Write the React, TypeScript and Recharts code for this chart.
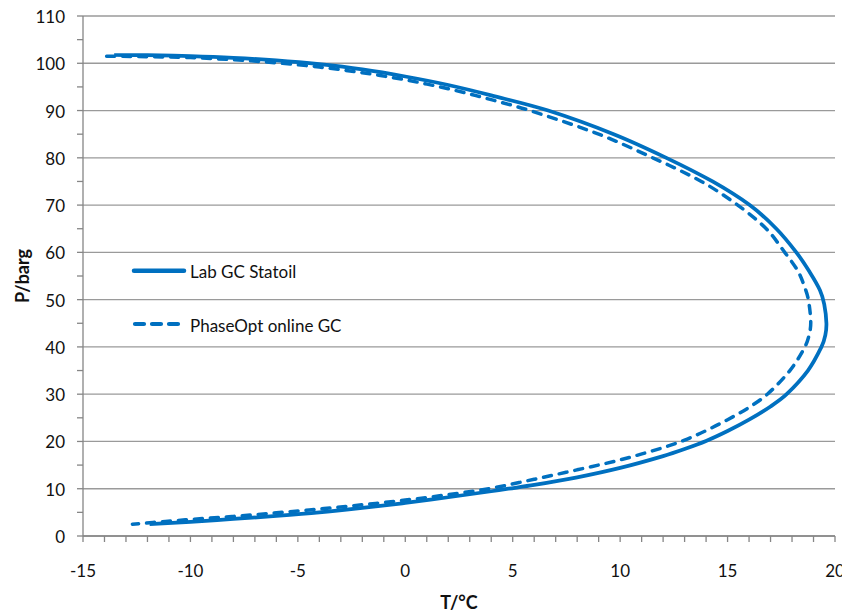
import React from 'react';
import { LineChart, Line, XAxis, YAxis, CartesianGrid, Label } from 'recharts';

// Lab GC Statoil (solid) — traced along the curve from the top-left end, round the nose, to the bottom-left end
const LAB_T = [-13.55, -12, -10, -8, -6, -4, -2, 0, 2, 4, 6.65, 9.7, 12.15, 14.3, 16.03, 17.27, 18.2, 18.8, 19.3, 19.5, 19.6, 19.55, 19.37, 18.74, 17.75, 17.0, 16.0, 15.0, 14.0, 13.0, 12.0, 10.0, 8.0, 6.0, 4.8, 4.0, 2.0, 0, -2, -4, -6, -8, -10, -11.9];
const LAB_P = [101.75, 101.7, 101.5, 101.15, 100.6, 99.8, 98.7, 97.2, 95.4, 93.2, 90, 85, 80, 75, 70, 65, 60, 56, 52, 49, 45, 42.5, 40, 35, 30, 27.4, 24.6, 22.2, 20.1, 18.4, 16.9, 14.4, 12.4, 10.8, 10.0, 9.47, 8.2, 7.0, 5.95, 5.0, 4.25, 3.6, 3.0, 2.5];

// PhaseOpt online GC (dashed)
const ONLINE_T = [-13.9, -12, -10, -8, -6, -4, -2, 0, 2, 4, 5.8, 9.0, 11.52, 13.78, 15.47, 16.8, 17.66, 18.28, 18.6, 18.76, 18.87, 18.82, 18.6, 17.9, 16.85, 16.0, 15.0, 14.0, 13.0, 12.0, 10.0, 8.0, 6.0, 4.0, 2.0, 0, -2, -4, -6, -8, -10, -12.7];
const ONLINE_P = [101.5, 101.4, 101.2, 100.75, 100.1, 99.2, 98.0, 96.5, 94.6, 92.3, 90, 85, 80, 75, 70, 65, 60, 56, 52.5, 50, 45.5, 43, 40, 35, 30, 27.2, 24.6, 22.3, 20.3, 18.7, 16.1, 14.0, 12.0, 10.1, 8.75, 7.6, 6.6, 5.7, 4.9, 4.15, 3.5, 2.5];

const X_TICKS = [-15, -14, -13, -12, -11, -10, -9, -8, -7, -6, -5, -4, -3, -2, -1, 0, 1, 2, 3, 4, 5, 6, 7, 8, 9, 10, 11, 12, 13, 14, 15, 16, 17, 18, 19, 20];
const X_LABELED = [-15, -10, -5, 0, 5, 10, 15, 20];
const Y_TICKS = [0, 5, 10, 15, 20, 25, 30, 35, 40, 45, 50, 55, 60, 65, 70, 75, 80, 85, 90, 95, 100, 105, 110];
const Y_LABELED = [0, 10, 20, 30, 40, 50, 60, 70, 80, 90, 100, 110];
const SERIES_NAMES = ['Lab GC Statoil', 'PhaseOpt online GC'];
const X_TITLE = 'T/°C';
const Y_TITLE = 'P/barg';

const labData = LAB_T.map((t, i) => ({ t, p: LAB_P[i] }));
const onlineData = ONLINE_T.map((t, i) => ({ t, p: ONLINE_P[i] }));

const BLUE = '#0070C0';
const AXIS = '#868686';
const GRID = '#9a9a9a';
const FONT = 'Lato, "Open Sans", sans-serif';

// Chord-length parameterised cubic Hermite spline (d3 curve factory interface):
// smooth through every scaled point, also where the curve turns back on itself.
const smoothCurve: any = (context: any) => {
  let pts: number[][] = [];
  return {
    areaStart() {},
    areaEnd() {},
    lineStart() {
      pts = [];
    },
    point(x: number, y: number) {
      pts.push([+x, +y]);
    },
    lineEnd() {
      const n = pts.length;
      if (!n) return;
      context.moveTo(pts[0][0], pts[0][1]);
      if (n === 1) return;
      const d: number[] = [];
      for (let i = 0; i < n - 1; i++) {
        d.push(Math.hypot(pts[i + 1][0] - pts[i][0], pts[i + 1][1] - pts[i][1]) || 1e-6);
      }
      const m = pts.map((p, i) => {
        if (i === 0) return [(pts[1][0] - p[0]) / d[0], (pts[1][1] - p[1]) / d[0]];
        if (i === n - 1) return [(p[0] - pts[i - 1][0]) / d[i - 1], (p[1] - pts[i - 1][1]) / d[i - 1]];
        const s = d[i - 1] + d[i];
        return [(pts[i + 1][0] - pts[i - 1][0]) / s, (pts[i + 1][1] - pts[i - 1][1]) / s];
      });
      for (let i = 0; i < n - 1; i++) {
        const k = d[i] / 3;
        context.bezierCurveTo(
          pts[i][0] + m[i][0] * k,
          pts[i][1] + m[i][1] * k,
          pts[i + 1][0] - m[i + 1][0] * k,
          pts[i + 1][1] - m[i + 1][1] * k,
          pts[i + 1][0],
          pts[i + 1][1]
        );
      }
    },
  };
};

const XTick = (props: any) => {
  const { x, y, payload } = props;
  if (!X_LABELED.includes(payload.value)) return <g />;
  return (
    <text x={x} y={y} dy={34.5} textAnchor="middle" fontSize={17} fill="#111" fontFamily={FONT}>
      {payload.value}
    </text>
  );
};

const YTick = (props: any) => {
  const { x, y, payload } = props;
  if (!Y_LABELED.includes(payload.value)) return <g />;
  return (
    <text x={x} y={y} dx={-12} dy={7} textAnchor="end" fontSize={17} fill="#111" fontFamily={FONT}>
      {payload.value}
    </text>
  );
};

const YTitle = (props: any) => {
  const vb = props.viewBox || {};
  const cx = 14;
  const cy = vb.y + vb.height / 2;
  return (
    <text x={cx} y={cy} transform={`rotate(-90 ${cx} ${cy})`} textAnchor="middle" dominantBaseline="central"
      fontSize={18} fontWeight="bold" fill="#111" fontFamily={FONT}>
      {Y_TITLE}
    </text>
  );
};

const XTitle = (props: any) => {
  const vb = props.viewBox || {};
  const cx = vb.x + vb.width / 2;
  return (
    <text x={cx} y={609} textAnchor="middle" fontSize={18} fontWeight="bold" fill="#111" fontFamily={FONT}>
      {X_TITLE}
    </text>
  );
};

export default function App() {
  return (
    <div style={{ position: 'relative', width: 842, height: 614, marginTop: -8, fontFamily: FONT }}>
      <LineChart width={842} height={614} margin={{ top: 16, right: 15, left: 0, bottom: 38 }}>
        <CartesianGrid horizontal vertical={false} horizontalValues={Y_LABELED} stroke={GRID} strokeWidth={1.3} />
        <XAxis
          type="number"
          dataKey="t"
          domain={[-15, 20]}
          ticks={X_TICKS}
          interval={0}
          height={40}
          tickSize={6}
          tickMargin={0}
          axisLine={{ stroke: AXIS, strokeWidth: 1.3 }}
          tickLine={{ stroke: AXIS, strokeWidth: 1.3 }}
          tick={<XTick />}
          allowDataOverflow
        >
          <Label content={<XTitle />} />
        </XAxis>
        <YAxis
          type="number"
          dataKey="p"
          domain={[0, 110]}
          ticks={Y_TICKS}
          interval={0}
          width={75}
          tickSize={6}
          tickMargin={0}
          axisLine={{ stroke: AXIS, strokeWidth: 1.3 }}
          tickLine={{ stroke: AXIS, strokeWidth: 1.3 }}
          tick={<YTick />}
          allowDataOverflow
        >
          <Label content={<YTitle />} />
        </YAxis>
        <Line
          data={labData}
          dataKey="p"
          name={SERIES_NAMES[0]}
          type={smoothCurve}
          stroke={BLUE}
          strokeWidth={3.75}
          dot={false}
          activeDot={false}
          isAnimationActive={false}
        />
        <Line
          data={onlineData}
          dataKey="p"
          name={SERIES_NAMES[1]}
          type={smoothCurve}
          stroke={BLUE}
          strokeWidth={3.5}
          strokeDasharray="8 8"
          strokeLinecap="round"
          dot={false}
          activeDot={false}
          isAnimationActive={false}
        />
      </LineChart>
      <svg width={300} height={100} style={{ position: 'absolute', left: 120, top: 248 }}>
        <line x1={6} x2={56} y1={22.7} y2={22.7} stroke={BLUE} strokeWidth={4.5} strokeLinecap="round" />
        <text x={62} y={30.3} fontSize={17} fill="#111" fontFamily={FONT}>{SERIES_NAMES[0]}</text>
        <line x1={7} x2={58} y1={76} y2={76} stroke={BLUE} strokeWidth={4.2} strokeDasharray="9 8" strokeLinecap="round" />
        <text x={62} y={84.3} fontSize={17} fill="#111" fontFamily={FONT}>{SERIES_NAMES[1]}</text>
      </svg>
    </div>
  );
}
